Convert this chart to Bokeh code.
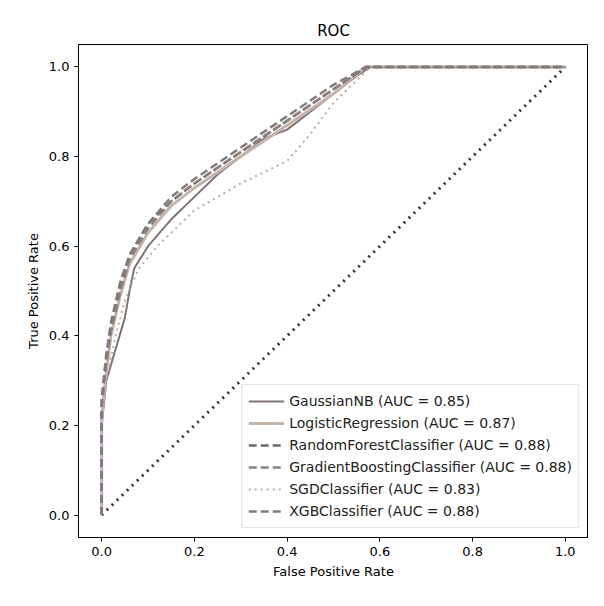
from bokeh.plotting import figure
from bokeh.models import Range1d, Legend, LegendItem, NumeralTickFormatter
from bokeh.embed import file_html
from bokeh.resources import INLINE

# ROC curves
gnb_fpr = [0, 0.0, 0.01, 0.03, 0.05, 0.06, 0.07, 0.1, 0.15, 0.2, 0.25, 0.3, 0.35, 0.4, 0.45, 0.5, 0.55, 0.58, 1.0]
gnb_tpr = [0, 0.2, 0.3, 0.37, 0.44, 0.5, 0.55, 0.6, 0.66, 0.71, 0.76, 0.8, 0.84, 0.86, 0.9, 0.94, 0.98, 1.0, 1.0]
lr_fpr = [0, 0.0, 0.01, 0.02, 0.04, 0.06, 0.1, 0.15, 0.2, 0.3, 0.4, 0.5, 0.57, 1.0]
lr_tpr = [0, 0.22, 0.32, 0.4, 0.49, 0.56, 0.63, 0.69, 0.73, 0.8, 0.87, 0.94, 1.0, 1.0]
rf_fpr = [0, 0.0, 0.01, 0.02, 0.04, 0.06, 0.1, 0.15, 0.2, 0.3, 0.4, 0.5, 0.57, 1.0]
rf_tpr = [0, 0.25, 0.35, 0.42, 0.51, 0.58, 0.65, 0.7, 0.74, 0.81, 0.88, 0.95, 1.0, 1.0]
gb_fpr = [0, 0.0, 0.01, 0.02, 0.04, 0.06, 0.1, 0.15, 0.2, 0.3, 0.4, 0.5, 0.57, 1.0]
gb_tpr = [0, 0.24, 0.34, 0.41, 0.5, 0.57, 0.64, 0.7, 0.74, 0.81, 0.88, 0.95, 1.0, 1.0]
sgd_fpr = [0, 0.0, 0.01, 0.03, 0.05, 0.08, 0.12, 0.2, 0.3, 0.4, 0.45, 0.5, 0.55, 0.58, 1.0]
sgd_tpr = [0, 0.2, 0.3, 0.4, 0.48, 0.55, 0.6, 0.68, 0.74, 0.79, 0.85, 0.92, 0.97, 1.0, 1.0]
xgb_fpr = [0, 0.0, 0.01, 0.02, 0.04, 0.06, 0.1, 0.15, 0.2, 0.3, 0.4, 0.5, 0.57, 1.0]
xgb_tpr = [0, 0.26, 0.36, 0.43, 0.52, 0.58, 0.65, 0.71, 0.75, 0.82, 0.89, 0.96, 1.0, 1.0]
chance = [0, 1]

names = ["GaussianNB (AUC = 0.85)", "LogisticRegression (AUC = 0.87)",
         "RandomForestClassifier (AUC = 0.88)", "GradientBoostingClassifier (AUC = 0.88)",
         "SGDClassifier (AUC = 0.83)", "XGBClassifier (AUC = 0.88)"]

p = figure(width=588, height=590, output_backend="svg", toolbar_location=None,
           title="ROC", x_range=Range1d(-0.05, 1.05), y_range=Range1d(-0.05, 1.05),
           min_border_left=78, min_border_right=0, min_border_top=44, min_border_bottom=53)
p.title.align = "center"
p.title.text_font = "DejaVu Sans"
p.title.text_font_style = "normal"
p.title.text_font_size = "15px"
p.title.text_color = "black"
p.xgrid.visible = False
p.ygrid.visible = False
p.outline_line_color = "black"
for ax in (p.xaxis, p.yaxis):
    ax.ticker = [0, 0.2, 0.4, 0.6, 0.8, 1.0]
    ax.formatter = NumeralTickFormatter(format="0.0")
    ax.major_label_text_font = "DejaVu Sans"
    ax.major_label_text_font_size = "13px"
    ax.major_label_text_color = "black"
    ax.axis_label_text_font = "DejaVu Sans"
    ax.axis_label_text_font_size = "13px"
    ax.axis_label_text_font_style = "normal"
    ax.axis_label_text_color = "black"
    ax.axis_line_color = "black"
    ax.major_tick_line_color = "black"
    ax.minor_tick_line_color = None
    ax.major_tick_out = 4
    ax.major_tick_in = 0
p.xaxis.axis_label = "False Positive Rate"
p.yaxis.axis_label = "True Positive Rate"

p.line(chance, chance, line_color="#3a3232", line_width=3, line_dash="2 5")
r1 = p.line(gnb_fpr, gnb_tpr, line_color="#7f7378", line_width=2)
r2 = p.line(lr_fpr, lr_tpr, line_color="#c4b4aa", line_width=3)
r3 = p.line(rf_fpr, rf_tpr, line_color="#6f6868", line_width=2.5, line_dash="8 4")
r4 = p.line(gb_fpr, gb_tpr, line_color="#8a8080", line_width=2.5, line_dash="8 4")
r5 = p.line(sgd_fpr, sgd_tpr, line_color="#b8aea8", line_width=2, line_dash="2 4")
r6 = p.line(xgb_fpr, xgb_tpr, line_color="#857a7a", line_width=2.5, line_dash="8 4")

legend = Legend(items=[LegendItem(label=n, renderers=[r]) for n, r in
                       zip(names, [r1, r2, r3, r4, r5, r6])],
                location="bottom_right", label_text_font="DejaVu Sans",
                label_text_font_size="14px", label_text_color="#222222",
                label_height=20, glyph_height=20, glyph_width=36, spacing=2,
                border_line_color="#cccccc", margin=9, padding=6)
p.add_layout(legend)

open("out.html", "w").write(file_html(p, INLINE))
